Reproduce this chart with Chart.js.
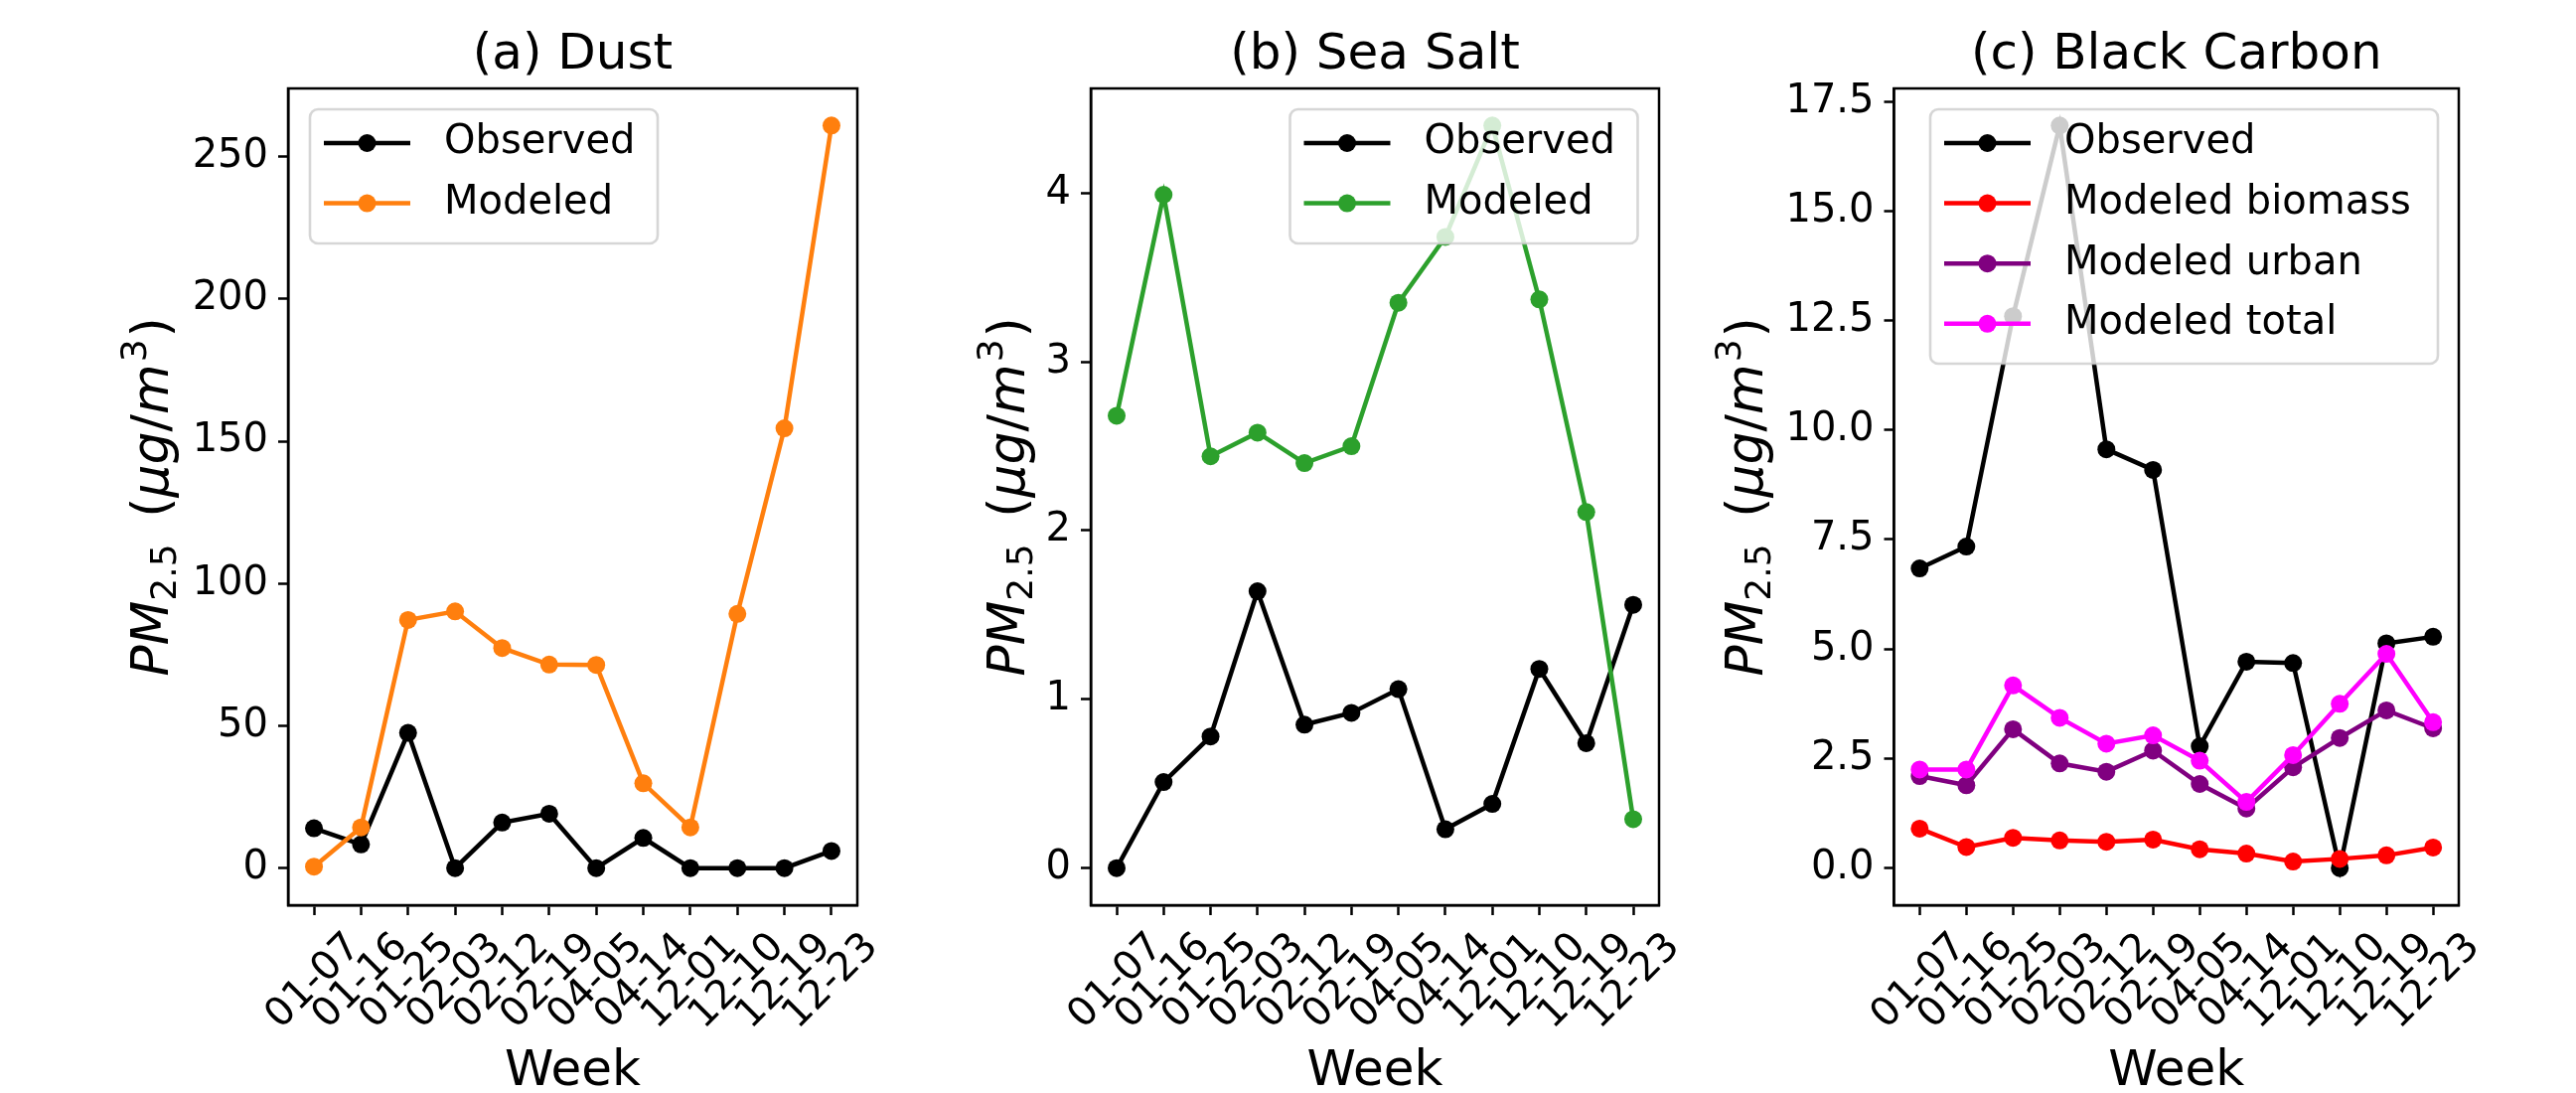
<!DOCTYPE html>
<html>
<head>
<meta charset="utf-8">
<script src="https://cdn.jsdelivr.net/npm/chart.js@4.4.0/dist/chart.umd.min.js"></script>
<style>
  html, body { margin: 0; padding: 0; background: #fff; }
  #wrap { position: relative; width: 2593px; height: 1100px; overflow: hidden; }
  canvas { position: absolute; top: 0; left: 0; }
</style>
</head>
<body>
<div id="wrap">
  <canvas id="dust" width="2593" height="1100"></canvas>
  <canvas id="salt" width="2593" height="1100"></canvas>
  <canvas id="bc" width="2593" height="1100"></canvas>
</div>
<script>
const weeks = ["01-07", "01-16", "01-25", "02-03", "02-12", "02-19", "04-05", "04-14", "12-01", "12-10", "12-19", "12-23"];

// (a) Dust
const dustObserved = [14.0, 8.3, 47.5, 0, 16.0, 19.1, 0, 10.6, 0, 0, 0, 6.0];
const dustModeled = [0.5, 14.3, 87.2, 90.2, 77.3, 71.5, 71.4, 29.8, 14.3, 89.3, 154.5, 260.9];
const dustTicks = [0, 50, 100, 150, 200, 250];

// (b) Sea salt
const saltObserved = [0, 0.51, 0.78, 1.64, 0.85, 0.92, 1.06, 0.23, 0.38, 1.18, 0.74, 1.56];
const saltModeled = [2.68, 3.99, 2.44, 2.58, 2.40, 2.50, 3.35, 3.74, 4.40, 3.37, 2.11, 0.29];
const saltTicks = [0, 1, 2, 3, 4];

// (c) Black carbon
const bcObserved = [6.84, 7.34, 12.6, 16.95, 9.56, 9.09, 2.78, 4.71, 4.68, 0, 5.13, 5.28];
const bcBiomass = [0.90, 0.48, 0.69, 0.63, 0.60, 0.65, 0.43, 0.33, 0.15, 0.21, 0.29, 0.47];
const bcUrban = [2.10, 1.89, 3.17, 2.39, 2.20, 2.68, 1.92, 1.36, 2.30, 2.97, 3.60, 3.19];
const bcTotal = [2.25, 2.25, 4.17, 3.43, 2.84, 3.03, 2.45, 1.51, 2.58, 3.75, 4.89, 3.33];
const bcTicks = [0, 2.5, 5, 7.5, 10, 12.5, 15, 17.5];

Chart.defaults.font.family = "DejaVu Sans";
Chart.defaults.color = "#000";

// frame, in-axes legend and the mathtext-like y label
const panelDecor = {
  id: "panelDecor",
  afterDatasetsDraw(chart, args, o) {
    const { ctx, chartArea: a } = chart;
    ctx.save();
    ctx.lineWidth = 2.5;
    ctx.strokeStyle = "#000";
    ctx.strokeRect(a.left, a.top, a.right - a.left, a.bottom - a.top);

    const bx = a.left + o.legendX, by = a.top + 21;
    ctx.beginPath();
    ctx.roundRect(bx, by, o.legendW, o.legendH, 8);
    ctx.fillStyle = "rgba(255,255,255,0.8)";
    ctx.fill();
    ctx.lineWidth = 2.6;
    ctx.strokeStyle = "rgba(204,204,204,0.8)";
    ctx.stroke();
    ctx.font = '40px "DejaVu Sans"';
    ctx.textBaseline = "middle";
    chart.data.datasets.forEach((ds, i) => {
      const y = by + 34 + i * 60.6;
      ctx.strokeStyle = ds.borderColor;
      ctx.lineWidth = 4.5;
      ctx.beginPath(); ctx.moveTo(bx + 14, y); ctx.lineTo(bx + 101, y); ctx.stroke();
      ctx.fillStyle = ds.borderColor;
      ctx.beginPath(); ctx.arc(bx + 57.5, y, 9, 0, Math.PI * 2); ctx.fill();
      ctx.fillStyle = "#000";
      ctx.fillText(ds.label, bx + 135, y);
    });
    ctx.restore();
  },
  afterDraw(chart, args, o) {
    const { ctx, chartArea: a } = chart;
    // text, style, size, baseline shift, extra gap after
    const parts = [
      ["PM", "italic", 52, 0, 0], ["2.5", "normal", 36, 8, 10], [" (", "normal", 52, 0, 0],
      ["\u03bcg", "italic", 52, 0, 0], ["/", "normal", 52, 0, 0], ["m", "italic", 52, 0, 2],
      ["3", "normal", 36, -22, 2], [")", "normal", 52, 0, 0]
    ];
    ctx.save();
    ctx.translate(a.left - o.ylabelDist, (a.top + a.bottom) / 2);
    ctx.rotate(-Math.PI / 2);
    ctx.textBaseline = "alphabetic";
    ctx.fillStyle = "#000";
    let total = 0;
    parts.forEach(p => { ctx.font = `${p[1]} ${p[2]}px "DejaVu Sans"`; total += ctx.measureText(p[0]).width + p[4]; });
    let x = -total / 2;
    parts.forEach(p => {
      ctx.font = `${p[1]} ${p[2]}px "DejaVu Sans"`;
      ctx.fillText(p[0], x, p[3]);
      x += ctx.measureText(p[0]).width + p[4];
    });
    ctx.restore();
  }
};

function makePanel(id, title, series, yTicks, decimals, L) {
  const all = series.flatMap(s => s.data);
  const lo = Math.min(...all), hi = Math.max(...all);
  const m = (hi - lo) * 0.05;
  const datasets = series.map((s, i) => ({
    label: s.label,
    data: s.data.map((v, j) => ({ x: j, y: v })),
    borderColor: s.color,
    backgroundColor: s.color,
    pointBackgroundColor: s.color,
    pointBorderWidth: 0,
    pointRadius: 9,
    borderWidth: 4.5,
    tension: 0,
    order: series.length - i
  }));
  new Chart(document.getElementById(id), {
    type: "line",
    data: { datasets },
    plugins: [panelDecor],
    options: {
      responsive: false,
      animation: false,
      layout: { padding: { left: L.left - 130, right: 2593 - L.right, top: 0, bottom: 0 } },
      plugins: {
        legend: { display: false },
        tooltip: { enabled: false },
        title: {
          display: true, text: title, fullSize: false, color: "#000",
          font: { size: 50, weight: "normal" },
          padding: { top: 26, bottom: 3 }
        },
        panelDecor: { legendX: L.legendX, legendW: L.legendW, legendH: L.legendH, ylabelDist: L.ylabelDist }
      },
      scales: {
        x: {
          type: "linear",
          min: -0.55, max: weeks.length - 0.45,
          afterBuildTicks: s => { s.ticks = weeks.map((w, i) => ({ value: i })); },
          afterFit: s => { s.height = 189; s.paddingLeft = 0; s.paddingRight = 0; },
          ticks: {
            autoSkip: false, minRotation: 45, maxRotation: 45, labelOffset: 41, padding: 9,
            color: "#000", font: { size: 40 },
            callback: v => weeks[v]
          },
          grid: { drawOnChartArea: false, drawTicks: true, tickLength: 10, tickWidth: 2.5, color: "#000", tickColor: "#000" },
          border: { display: true, color: "#000", width: 2.5 },
          title: { display: true, text: "Week", color: "#000", font: { size: 50, lineHeight: 0.84 }, padding: { top: 0, bottom: 0 } }
        },
        y: {
          type: "linear",
          min: lo - m, max: hi + m,
          afterBuildTicks: s => { s.ticks = yTicks.map(v => ({ value: v })); },
          afterFit: s => { s.width = 130; s.paddingTop = 0; s.paddingBottom = 0; },
          ticks: { padding: 10, color: "#000", font: { size: 40 }, callback: v => Number(v).toFixed(decimals) },
          grid: { drawOnChartArea: false, drawTicks: true, tickLength: 10, tickWidth: 2.5, color: "#000", tickColor: "#000" },
          border: { display: true, color: "#000", width: 2.5 }
        }
      }
    }
  });
}

makePanel("dust", "(a) Dust", [
  { label: "Observed", data: dustObserved, color: "#000000" },
  { label: "Modeled", data: dustModeled, color: "#ff7f0e" }
], dustTicks, 0, { left: 290, right: 863, legendX: 22, legendW: 350, legendH: 135, ylabelDist: 121 });

makePanel("salt", "(b) Sea Salt", [
  { label: "Observed", data: saltObserved, color: "#000000" },
  { label: "Modeled", data: saltModeled, color: "#2ca02c" }
], saltTicks, 0, { left: 1098, right: 1670, legendX: 200.5, legendW: 350, legendH: 135, ylabelDist: 67 });

makePanel("bc", "(c) Black Carbon", [
  { label: "Observed", data: bcObserved, color: "#000000" },
  { label: "Modeled biomass", data: bcBiomass, color: "#ff0000" },
  { label: "Modeled urban", data: bcUrban, color: "#800080" },
  { label: "Modeled total", data: bcTotal, color: "#ff00ff" }
], bcTicks, 1, { left: 1906.5, right: 2475, legendX: 36.5, legendW: 511, legendH: 256, ylabelDist: 133 });
</script>
</body>
</html>
